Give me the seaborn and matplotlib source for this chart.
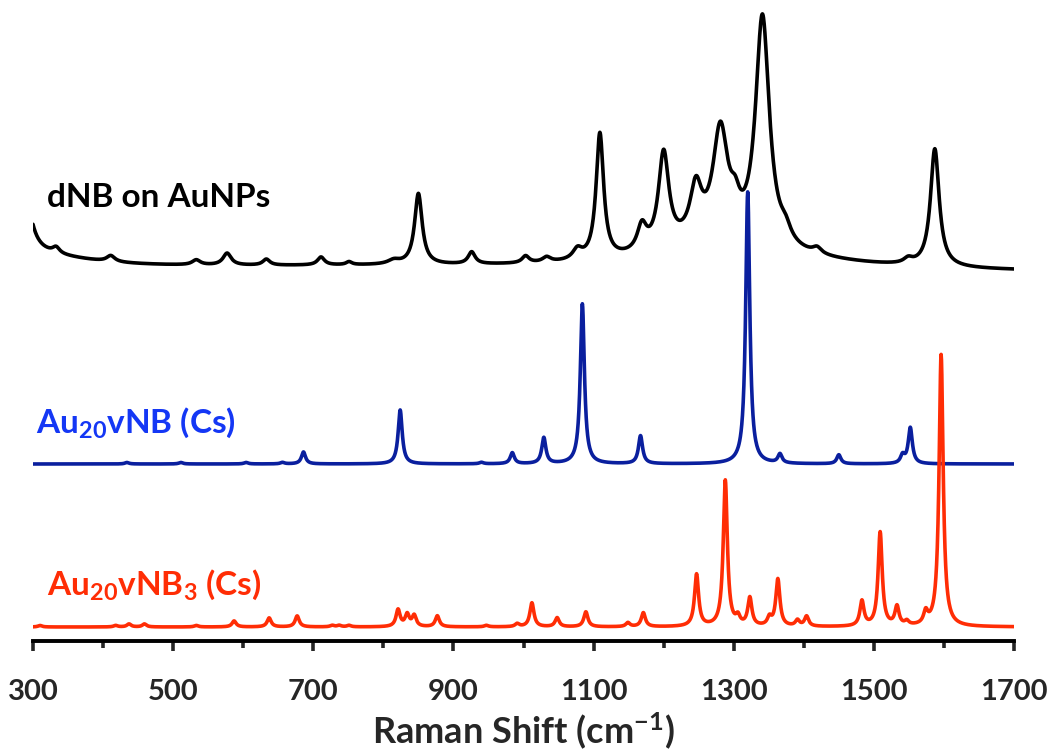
import numpy as np
import pandas as pd
import seaborn as sns
import matplotlib.pyplot as plt

sns.set_theme(style="white")
plt.rcParams["font.family"] = ["Lato", "DejaVu Sans"]
plt.rcParams["font.weight"] = "bold"
plt.rcParams["mathtext.fontset"] = "custom"
plt.rcParams["mathtext.rm"] = "Lato:bold"
plt.rcParams["mathtext.it"] = "Lato:bold"
plt.rcParams["mathtext.bf"] = "Lato:bold"

# Raman shift grid (cm-1)
shift = np.linspace(300, 1700, 2801)

# dNB on AuNPs: band centre, height, FWHM
dnb_center = [285, 300, 800, 1350, 1250, 333, 411, 533, 577, 633, 711, 751, 815, 850, 926,
              1003, 1033, 1077, 1109, 1169, 1200, 1246, 1281, 1302, 1341, 1374, 1419, 1549, 1587]
dnb_height = [100, 14, 8, 10, 15, 6, 6, 5, 12, 6, 8, 3, 4, 71, 12,
              7, 5, 10, 126, 25, 95, 50, 110, 22, 232, 12, 6, 5, 118]
dnb_width = [20, 200, 1400, 300, 150, 12, 14, 14, 14, 12, 12, 10, 20, 13, 12,
             12, 14, 16, 13, 16, 18, 20, 26, 16, 24, 18, 15, 15, 15]

# Au20vNB (Cs), calculated
vnb_center = [434, 511, 604, 656, 686, 824, 940, 984, 1029, 1084, 1167, 1320, 1366, 1450, 1541, 1552]
vnb_height = [1.5, 1.5, 1.5, 1.5, 12, 54, 1.5, 11, 26, 160, 28, 272, 9, 9, 8, 36]
vnb_width = [7] * len(vnb_center)

# Au20vNB3 (Cs), calculated
vnb3_center = [310, 418, 437, 459, 533, 587, 637, 677, 727, 737, 751, 821, 834, 844, 877, 947,
               991, 1012, 1048, 1089, 1149, 1171, 1247, 1288, 1306, 1323, 1351, 1363, 1391,
               1404, 1483, 1509, 1533, 1547, 1574, 1596]
vnb3_height = [1.5, 1.5, 3, 3, 1.5, 6, 9, 11, 1.5, 1.5, 1.5, 17, 12, 11, 11, 1.5,
               3, 24, 9, 15, 4, 14, 52, 146, 8, 28, 8, 47, 6,
               10, 25, 94, 19, 4, 12, 272]
vnb3_width = [7] * len(vnb3_center)

offsets = {"dNB on AuNPs": 366, "Au20vNB (Cs)": 177, "Au20vNB3 (Cs)": 14}


def spectrum(centers, heights, widths):
    y = np.zeros_like(shift)
    for c, h, w in zip(centers, heights, widths):
        hw = w / 2.0
        y += h * hw ** 2 / ((shift - c) ** 2 + hw ** 2)
    return y


frames = []
for name, (c, h, w) in {"dNB on AuNPs": (dnb_center, dnb_height, dnb_width),
                        "Au20vNB (Cs)": (vnb_center, vnb_height, vnb_width),
                        "Au20vNB3 (Cs)": (vnb3_center, vnb3_height, vnb3_width)}.items():
    frames.append(pd.DataFrame({"shift": shift,
                                "intensity": spectrum(c, h, w) + offsets[name],
                                "trace": name}))
df = pd.concat(frames, ignore_index=True)

black = "#000000"
line_blue = "#0A1F9E"
label_blue = "#1437F5"
red = "#FF2D05"

fig = plt.figure(figsize=(10.47, 7.52), dpi=100)
ax = fig.add_axes([33 / 1047, 111 / 752, 981 / 1047, 641 / 752])

sns.lineplot(data=df, x="shift", y="intensity", hue="trace", estimator=None,
             palette={"dNB on AuNPs": black, "Au20vNB (Cs)": line_blue, "Au20vNB3 (Cs)": red},
             linewidth=2.6, legend=False, ax=ax)

ax.text(320, 434, "dNB on AuNPs", color=black, fontsize=24, fontweight="bold", va="baseline")
ax.text(304, 208, "Au$_{20}$vNB (Cs)", color=label_blue, fontsize=24, fontweight="bold", va="baseline")
ax.text(320, 46, "Au$_{20}$vNB$_{3}$ (Cs)", color=red, fontsize=24, fontweight="bold", va="baseline")

ax.set_xlim(300, 1700)
ax.set_ylim(0, 641)
ax.set_xticks(range(300, 1701, 200))
ax.set_xticks(range(400, 1601, 200), minor=True)
ax.set_yticks([])
ax.tick_params(axis="x", which="major", direction="out", length=7.5, width=2.6,
               pad=20, labelsize=21, bottom=True)
ax.tick_params(axis="x", which="minor", direction="out", length=5, width=2.6, bottom=True)
for lab in ax.get_xticklabels():
    lab.set_fontweight("bold")
for side in ["top", "left", "right"]:
    ax.spines[side].set_visible(False)
ax.spines["bottom"].set_linewidth(2.8)
ax.spines["bottom"].set_color("black")
ax.set_xlabel("Raman Shift (cm$^{-1}$)", fontsize=26, fontweight="bold", labelpad=4)
ax.set_ylabel("")

fig.savefig("out.png", dpi=100)
